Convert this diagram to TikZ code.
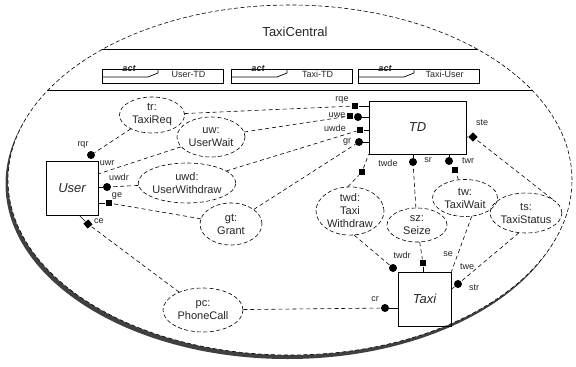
\documentclass[tikz,border=0pt]{standalone}
\usepackage{fontspec}
\setmainfont{Liberation Sans}
\usepackage{tikz}
\usetikzlibrary{shapes,shadows}
\tikzstyle{part}=[draw,line width=0.8pt,inner sep=0pt,text=black!85,font=\fontsize{13}{13}\selectfont\itshape]
\tikzstyle{role}=[ellipse,draw,dash pattern=on 4pt off 2.5pt,inner sep=0pt,align=center,text=black!85,font=\fontsize{11}{13}\selectfont]
\tikzstyle{dotport}=[circle,fill=black,minimum size=8pt,inner sep=0pt]
\tikzstyle{boxport}=[rectangle,fill=black,minimum size=6.5pt,inner sep=0pt]
\tikzstyle{plabel}=[inner sep=0pt,text=black!85,font=\fontsize{9}{9}\selectfont]
\tikzstyle{link} = [draw,dash pattern=on 4pt off 3pt,-]
\tikzstyle{stub} = [draw,-]

\begin{document}
\begin{tikzpicture}[x=1pt,y=-1pt,line width=0.6pt]
      \useasboundingbox (0,0) rectangle (576,367);
      % the collaboration
      \path[draw,dash pattern=on 4pt off 2.5pt,fill=white,
        drop shadow={shadow xshift=-2.5pt,shadow yshift=-4pt,opacity=1,fill=black!75}]
        (290,180) ellipse [x radius=282pt,y radius=175pt];
      \node[text=black!85,font=\fontsize{13}{13}\selectfont] (title) at (295,32) {TaxiCentral};
      \begin{scope}
        \clip (290,180) ellipse [x radius=282pt,y radius=175pt];
        \draw[line width=0.9pt] (0,49) -- (576,49);
        \draw[line width=0.9pt] (0,90) -- (576,90);
      \end{scope}
      \foreach \x/\t in {102/User-TD,231/Taxi-TD,358/Taxi-User}{
        \draw[line width=0.7pt] (\x,69) rectangle ++(121,14);
        \draw[line width=0.7pt] (\x+56,69) -- (\x+56,73) -- (\x+46,77) -- (\x,77);
        \node[text=black!85,font=\fontsize{9}{9}\selectfont\bfseries\itshape] (act\x) at (\x+27,68.5) {act};
        \node[text=black!85,font=\fontsize{9}{9}\selectfont] (name\x) at (\x+86.5,74) {\t};
      }
      % parts
      \node[part,minimum width=52pt,minimum height=54pt] (user) at (72,188) {User};
      \node[part,minimum width=97pt,minimum height=53pt] (td) at (417.5,127.5) {TD};
      \node[part,minimum width=53pt,minimum height=54pt] (taxi) at (424.5,299) {Taxi};
      % roles
      \node[role,minimum width=65pt,minimum height=36pt] (tr) at (152,115) {tr:\\TaxiReq};
      \node[role,minimum width=68pt,minimum height=40pt] (uw) at (211,137) {uw:\\UserWait};
      \node[role,minimum width=82pt,minimum height=40pt] (uwd) at (187,183) {uwd:\\UserWithdraw};
      \node[role,minimum width=62pt,minimum height=42pt] (gt) at (231,224) {gt:\\Grant};
      \node[role,minimum width=68pt,minimum height=48pt] (twd) at (350,211) {twd:\\Taxi\\Withdraw};
      \node[role,minimum width=60pt,minimum height=34pt] (sz) at (417,225) {sz:\\Seize};
      \node[role,minimum width=65pt,minimum height=37pt] (tw) at (465,198) {tw:\\TaxiWait};
      \node[role,minimum width=70pt,minimum height=40pt] (ts) at (526,213) {ts:\\TaxiStatus};
      \node[role,minimum width=80pt,minimum height=44pt] (pc) at (203,310) {pc:\\PhoneCall};
      % ports
      \node[dotport] (rqr) at (91,155) {};
      \coordinate (uwr) at (98,174);
      \node[dotport] (uwdr) at (107,187) {};
      \node[boxport] (ge) at (109,203) {};
      \node[boxport,rotate=40] (ce) at (88,224) {};
      \node[boxport] (rqe) at (355,106) {};
      \node[boxport] (uwe) at (350,116) {};
      \node[dotport] (uwc) at (358,117) {};
      \node[boxport] (uwde) at (360,130) {};
      \node[dotport] (gr) at (359,142) {};
      \node[boxport] (twde) at (362,172) {};
      \node[dotport] (sr) at (413,162) {};
      \node[dotport] (twr) at (449,161) {};
      \node[boxport] (twrb) at (455,170) {};
      \node[boxport,rotate=45] (ste) at (473,137) {};
      \node[dotport] (twdr) at (393,268) {};
      \node[boxport] (szp) at (423,263) {};
      \node[dotport] (str) at (458,284) {};
      \node[dotport] (cr) at (385,308) {};
      % port names
      \node[plabel] (rqr-l) at (83,145) {rqr};
      \node[plabel] (uwr-l) at (107,163) {uwr};
      \node[plabel] (uwdr-l) at (119,177) {uwdr};
      \node[plabel] (ge-l) at (117,196) {ge};
      \node[plabel] (ce-l) at (99,221) {ce};
      \node[plabel] (rqe-l) at (342,100) {rqe};
      \node[plabel] (uwe-l) at (337,115) {uwe};
      \node[plabel] (uwde-l) at (335,128) {uwde};
      \node[plabel] (gr-l) at (347,142) {gr};
      \node[plabel] (twde-l) at (388,163) {twde};
      \node[plabel] (sr-l) at (428,160) {sr};
      \node[plabel] (twr-l) at (468,161) {twr};
      \node[plabel] (ste-l) at (482,123) {ste};
      \node[plabel] (twdr-l) at (402,255) {twdr};
      \node[plabel] (se-l) at (448,254) {se};
      \node[plabel] (twe-l) at (467,267) {twe};
      \node[plabel] (str-l) at (474,288) {str};
      \node[plabel] (cr-l) at (375,299) {cr};
      % stubs
      \draw[stub] (rqe) to (td.west |- rqe);
      \draw[stub] (uwc) to (td.west |- uwc);
      \draw[stub] (uwde) to (td.west |- uwde);
      \draw[stub] (gr) to (td.west |- gr);
      \draw[stub] (sr) to (sr |- td.south);
      \draw[stub] (twr) to (twr |- td.south);
      \draw[stub] (ste) to (td.east |- ste);
      \draw[stub] (uwdr) to (user.east |- uwdr);
      \draw[stub] (ge) to (user.east |- ge);
      \draw[stub] (ce) to (user.-75);
      \draw[stub] (szp) to (szp |- taxi.north);
      \draw[stub] (str) to (taxi.20);
      \draw[stub] (cr) to (taxi.west |- cr);
      \draw[link] (twde) to (td.south west);
      % connectors
      \draw[link] (tr) to (rqe);
      \draw[link] (tr) to (rqr);
      \draw[link] (uw) to (uwe);
      \draw[link] (uw) to (uwr);
      \draw[link] (uwd) to (uwde);
      \draw[link] (uwd) to (uwdr);
      \draw[link] (gt) to (ge);
      \draw[link] (gt) to (gr);
      \draw[link] (twd.95) to (twde);
      \draw[link] (sz) to (sr);
      \draw[link] (tw) to (twrb);
      \draw[link] (ts.28) to (ste);
      \draw[link] (twd.-80) to (twdr);
      \draw[link] (sz) to (szp);
      \draw[link] (tw.-70) to (taxi.north east);
      \draw[link] (ts.-110) to (str);
      \draw[link] (pc) to (cr);
      \draw[link] (pc) to (ce);
    \end{tikzpicture}
\end{document}
